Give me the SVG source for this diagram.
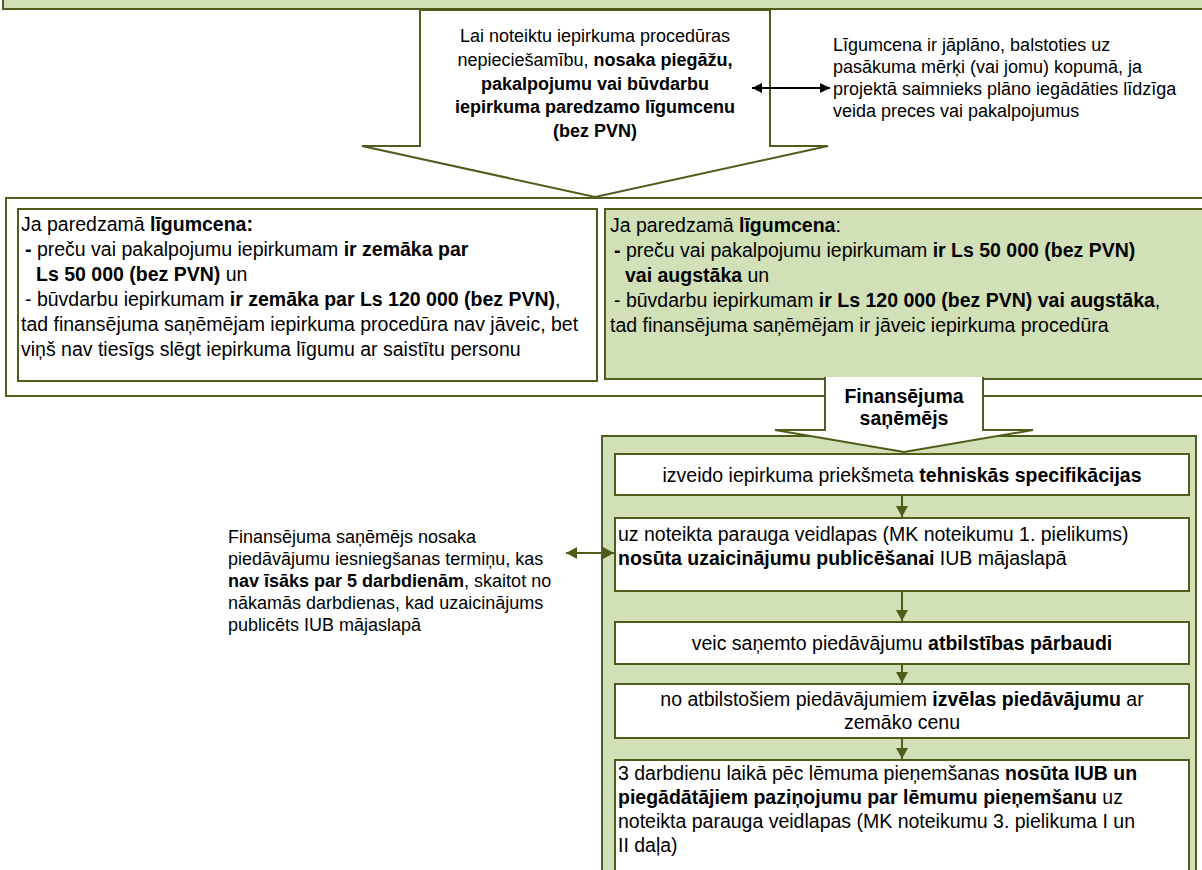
<svg xmlns="http://www.w3.org/2000/svg" width="1202" height="870" viewBox="0 0 1202 870">
<style>
.t{font-family:"Liberation Sans",Arial,sans-serif;fill:#000}
.f18{font-size:18px}
.f19{font-size:19.5px}
.b{font-weight:700}
.c{text-anchor:middle}
.ol{stroke:#4f5d1c;stroke-width:2}
.gr{fill:#d1e0b6}
.wh{fill:#fff}
.cn{fill:none;stroke-width:2}
</style>
<defs>
<marker id="ab" viewBox="0 0 10 10" refX="10" refY="5" markerWidth="10" markerHeight="10" markerUnits="userSpaceOnUse" orient="auto-start-reverse"><path d="M0,0 L10,5 L0,10 z" fill="#000"/></marker>
<marker id="ao" viewBox="0 0 11 12" refX="11" refY="6" markerWidth="11" markerHeight="12" markerUnits="userSpaceOnUse" orient="auto-start-reverse"><path d="M0,0 L11,6 L0,12 z" fill="#4f5d1c"/></marker>
</defs>

<g id="banner">
<rect x="3" y="-20" width="1210" height="29" class="gr ol"/>
</g>

<g id="section-upper">
<rect x="6" y="198" width="1210" height="198" class="wh ol"/>
</g>

<g id="arrow-main">
<polygon points="420,10 770,10 770,146 828,146 595,197 362,146 420,146" class="wh ol"/>
<text class="t f18 c" x="595" y="42">Lai noteiktu iepirkuma procedūras</text>
<text class="t f18 c" x="595" y="66">nepieciešamību, <tspan class="b">nosaka piegāžu,</tspan></text>
<text class="t f18 c b" x="595" y="90">pakalpojumu vai būvdarbu</text>
<text class="t f18 c b" x="595" y="113">iepirkuma paredzamo līgumcenu</text>
<text class="t f18 c b" x="595" y="137">(bez PVN)</text>
</g>

<g id="note-top">
<text class="t f18" x="833" y="51">Līgumcena ir jāplāno, balstoties uz</text>
<text class="t f18" x="833" y="73">pasākuma mērķi (vai jomu) kopumā, ja</text>
<text class="t f18" x="833" y="95">projektā saimnieks plāno iegādāties līdzīga</text>
<text class="t f18" x="833" y="117">veida preces vai pakalpojumus</text>
</g>

<g id="box-below">
<rect x="18" y="209" width="579" height="172" class="wh ol"/>
<text class="t f19" x="21" y="231">Ja paredzamā <tspan class="b">līgumcena:</tspan></text>
<text class="t f19" x="25" y="256"><tspan class="b">-</tspan> preču vai pakalpojumu iepirkumam <tspan class="b">ir zemāka par</tspan></text>
<text class="t f19 b" x="36" y="281">Ls 50 000 (bez PVN)<tspan font-weight="400"> un</tspan></text>
<text class="t f19" x="25" y="306">- būvdarbu iepirkumam <tspan class="b">ir zemāka par Ls 120 000 (bez PVN)</tspan>,</text>
<text class="t f19" x="21" y="331">tad finansējuma saņēmējam iepirkuma procedūra nav jāveic, bet</text>
<text class="t f19" x="21" y="356">viņš nav tiesīgs slēgt iepirkuma līgumu ar saistītu personu</text>
</g>

<g id="box-above">
<rect x="605" y="209" width="610" height="170" class="gr ol"/>
<text class="t f19" x="610" y="232">Ja paredzamā <tspan class="b">līgumcena</tspan>:</text>
<text class="t f19" x="614" y="257"><tspan class="b">-</tspan> preču vai pakalpojumu iepirkumam <tspan class="b">ir Ls 50 000 (bez PVN)</tspan></text>
<text class="t f19 b" x="625" y="282">vai augstāka<tspan font-weight="400"> un</tspan></text>
<text class="t f19" x="614" y="307">- būvdarbu iepirkumam <tspan class="b">ir Ls 120 000 (bez PVN) vai augstāka</tspan>,</text>
<text class="t f19" x="610" y="332">tad finansējuma saņēmējam ir jāveic iepirkuma procedūra</text>
</g>

<g id="procedure">
<rect x="602" y="436" width="594" height="450" class="gr ol"/>
</g>

<g id="arrow-recipient">
<polygon points="825,377 983,377 983,430 1033,430 904,452 775,430 825,430" class="wh"/>
<polyline points="825,377 825,430 775,430 904,452 1033,430 983,430 983,377" class="ol" fill="none"/>
<text class="t f19 c b" x="904" y="403">Finansējuma</text>
<text class="t f19 c b" x="904" y="425">saņēmējs</text>
</g>

<g id="step1">
<rect x="615" y="454" width="574" height="41" class="wh ol"/>
<text class="t f19 c" x="902" y="482">izveido iepirkuma priekšmeta <tspan class="b">tehniskās specifikācijas</tspan></text>
</g>

<g id="step2">
<rect x="615" y="518" width="574" height="73" class="wh ol"/>
<text class="t f19" x="618" y="541">uz noteikta parauga veidlapas (MK noteikumu 1. pielikums)</text>
<text class="t f19" x="618" y="565"><tspan class="b">nosūta uzaicinājumu publicēšanai</tspan> IUB mājaslapā</text>
</g>

<g id="step3">
<rect x="615" y="622" width="574" height="42" class="wh ol"/>
<text class="t f19 c" x="902" y="650">veic saņemto piedāvājumu <tspan class="b">atbilstības pārbaudi</tspan></text>
</g>

<g id="step4">
<rect x="615" y="684" width="574" height="54" class="wh ol"/>
<text class="t f19 c" x="902" y="706">no atbilstošiem piedāvājumiem <tspan class="b">izvēlas piedāvājumu</tspan> ar</text>
<text class="t f19 c" x="902" y="729">zemāko cenu</text>
</g>

<g id="step5">
<rect x="615" y="760" width="574" height="120" class="wh ol"/>
<text class="t f19" x="618" y="780">3 darbdienu laikā pēc lēmuma pieņemšanas <tspan class="b">nosūta IUB un</tspan></text>
<text class="t f19" x="618" y="804"><tspan class="b">piegādātājiem paziņojumu par lēmumu pieņemšanu</tspan> uz</text>
<text class="t f19" x="618" y="828">noteikta parauga veidlapas (MK noteikumu 3. pielikuma I un</text>
<text class="t f19" x="618" y="852">II daļa)</text>
</g>

<g id="note-deadline">
<text class="t f18" x="228" y="543">Finansējuma saņēmējs nosaka</text>
<text class="t f18" x="228" y="565">piedāvājumu iesniegšanas termiņu, kas</text>
<text class="t f18" x="228" y="587"><tspan class="b">nav īsāks par 5 darbdienām</tspan>, skaitot no</text>
<text class="t f18" x="228" y="609">nākamās darbdienas, kad uzaicinājums</text>
<text class="t f18" x="228" y="631">publicēts IUB mājaslapā</text>
</g>

<g id="connectors">
<line x1="752" y1="88" x2="830" y2="88" stroke="#000" class="cn" marker-start="url(#ab)" marker-end="url(#ab)"/>
<line x1="566" y1="553" x2="614" y2="553" stroke="#4f5d1c" class="cn" marker-start="url(#ao)" marker-end="url(#ao)"/>
<line x1="902" y1="496" x2="902" y2="517" stroke="#4f5d1c" class="cn" marker-end="url(#ao)"/>
<line x1="902" y1="592" x2="902" y2="621" stroke="#4f5d1c" class="cn" marker-end="url(#ao)"/>
<line x1="902" y1="665" x2="902" y2="683" stroke="#4f5d1c" class="cn" marker-end="url(#ao)"/>
<line x1="902" y1="739" x2="902" y2="759" stroke="#4f5d1c" class="cn" marker-end="url(#ao)"/>
</g>
</svg>
